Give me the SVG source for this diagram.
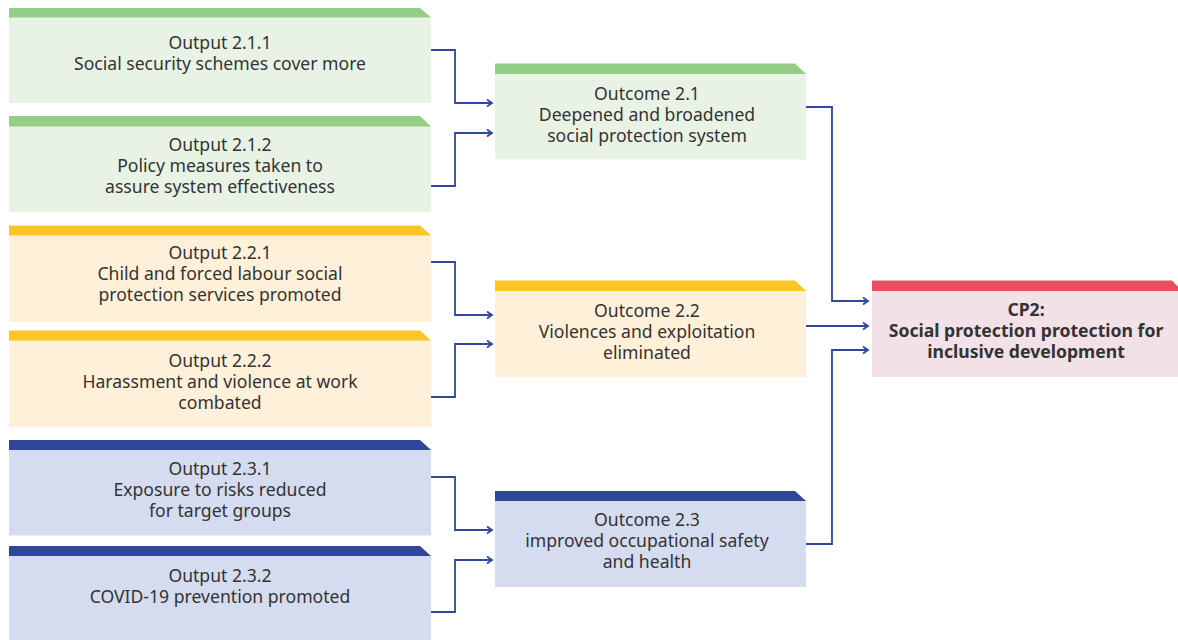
<svg xmlns="http://www.w3.org/2000/svg" width="1178" height="640" viewBox="0 0 1178 640">
  <style>
    .lbl { font-family: "Noto Sans", "Open Sans", "DejaVu Sans", sans-serif; font-size: 17.6px; fill: #333333; text-anchor: middle; }
    .bold { font-weight: bold; }
    .g-body { fill: #E8F3E6; } .g-head { fill: #93CD86; }
    .y-body { fill: #FFF1D9; } .y-head { fill: #FBC526; }
    .b-body { fill: #D6DCEF; } .b-head { fill: #2D479B; }
    .r-body { fill: #F2E2E7; } .r-head { fill: #E94E5F; }
    .conn { fill: none; stroke: #2E48A0; stroke-width: 1.8; marker-end: url(#arrow); }
  </style>
  <defs>
    <marker id="arrow" markerUnits="userSpaceOnUse" markerWidth="10" markerHeight="10" refX="6" refY="4" orient="auto">
      <path d="M1,0.5 L6,4 L1,7.5" fill="none" stroke="#2E48A0" stroke-width="1.8"/>
    </marker>
  </defs>

  <rect width="1178" height="640" fill="#FFFFFF"/>

  <!-- Outputs, column 1 -->
  <g id="output-2-1-1">
    <rect class="g-body" x="9" y="17" width="422" height="86"/>
    <polygon class="g-head" points="9,8 420,8 431,17.5 9,17.5"/>
    <text class="lbl" x="220" y="49">Output 2.1.1</text>
    <text class="lbl" x="220" y="70">Social security schemes cover more</text>
  </g>
  <g id="output-2-1-2">
    <rect class="g-body" x="9" y="126" width="422" height="86"/>
    <polygon class="g-head" points="9,116 420,116 431,126.5 9,126.5"/>
    <text class="lbl" x="220" y="151">Output 2.1.2</text>
    <text class="lbl" x="220" y="172">Policy measures taken to</text>
    <text class="lbl" x="220" y="193">assure system effectiveness</text>
  </g>
  <g id="output-2-2-1">
    <rect class="y-body" x="9" y="235" width="422" height="87"/>
    <polygon class="y-head" points="9,225.5 420,225.5 431,235.5 9,235.5"/>
    <text class="lbl" x="220" y="259">Output 2.2.1</text>
    <text class="lbl" x="220" y="280">Child and forced labour social</text>
    <text class="lbl" x="220" y="301">protection services promoted</text>
  </g>
  <g id="output-2-2-2">
    <rect class="y-body" x="9" y="340" width="422" height="87"/>
    <polygon class="y-head" points="9,330.5 420,330.5 431,340.5 9,340.5"/>
    <text class="lbl" x="220" y="367">Output 2.2.2</text>
    <text class="lbl" x="220" y="388">Harassment and violence at work</text>
    <text class="lbl" x="220" y="409">combated</text>
  </g>
  <g id="output-2-3-1">
    <rect class="b-body" x="9" y="449.5" width="422" height="86"/>
    <polygon class="b-head" points="9,440 420,440 431,450 9,450"/>
    <text class="lbl" x="220" y="475">Output 2.3.1</text>
    <text class="lbl" x="220" y="496">Exposure to risks reduced</text>
    <text class="lbl" x="220" y="517">for target groups</text>
  </g>
  <g id="output-2-3-2">
    <rect class="b-body" x="9" y="555.5" width="422" height="85"/>
    <polygon class="b-head" points="9,546 420,546 431,556 9,556"/>
    <text class="lbl" x="220" y="582">Output 2.3.2</text>
    <text class="lbl" x="220" y="603">COVID-19 prevention promoted</text>
  </g>

  <!-- Outcomes, column 2 -->
  <g id="outcome-2-1">
    <rect class="g-body" x="495" y="73.5" width="311" height="86"/>
    <polygon class="g-head" points="495,63.5 795,63.5 806,74 495,74"/>
    <text class="lbl" x="647" y="100">Outcome 2.1</text>
    <text class="lbl" x="647" y="121">Deepened and broadened</text>
    <text class="lbl" x="647" y="142">social protection system</text>
  </g>
  <g id="outcome-2-2">
    <rect class="y-body" x="495" y="290.5" width="311" height="86.5"/>
    <polygon class="y-head" points="495,280.5 795,280.5 806,291 495,291"/>
    <text class="lbl" x="647" y="317">Outcome 2.2</text>
    <text class="lbl" x="647" y="338">Violences and exploitation</text>
    <text class="lbl" x="647" y="359">eliminated</text>
  </g>
  <g id="outcome-2-3">
    <rect class="b-body" x="495" y="500.5" width="311" height="86.5"/>
    <polygon class="b-head" points="495,491 795,491 806,501 495,501"/>
    <text class="lbl" x="647" y="526">Outcome 2.3</text>
    <text class="lbl" x="647" y="547">improved occupational safety</text>
    <text class="lbl" x="647" y="568">and health</text>
  </g>

  <!-- Country programme priority -->
  <g id="cp2">
    <rect class="r-body" x="872" y="290.5" width="310" height="86.5"/>
    <polygon class="r-head" points="872,280.5 1172,280.5 1182,291 872,291"/>
    <text class="lbl bold" x="1026" y="316">CP2:</text>
    <text class="lbl bold" x="1026" y="337">Social protection protection for</text>
    <text class="lbl bold" x="1026" y="358">inclusive development</text>
  </g>

  <!-- Connectors -->
  <g id="connectors">
    <path class="conn" d="M431,50 H455 V103 H492"/>
    <path class="conn" d="M431,186 H455 V133 H492"/>
    <path class="conn" d="M431,262 H455 V315 H492"/>
    <path class="conn" d="M431,397 H455 V344 H492"/>
    <path class="conn" d="M431,477 H455 V530 H492"/>
    <path class="conn" d="M431,612 H455 V560 H492"/>
    <path class="conn" d="M806,107 H832 V301 H868"/>
    <path class="conn" d="M806,326 H868"/>
    <path class="conn" d="M806,544 H832 V350 H868"/>
  </g>
</svg>
